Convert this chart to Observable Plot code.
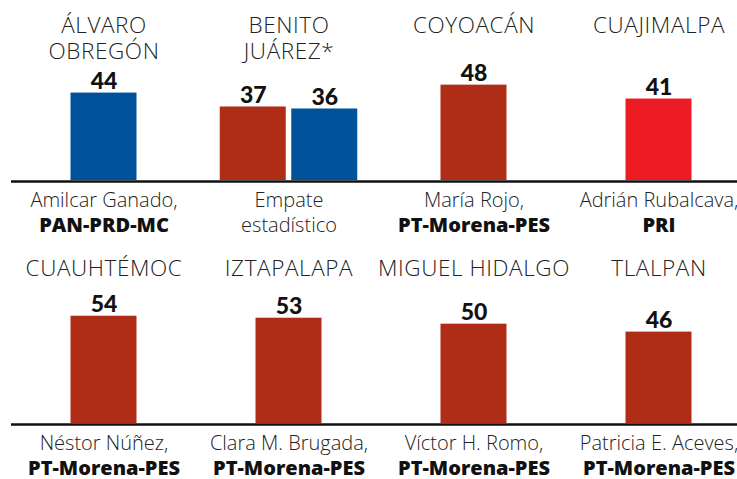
<!DOCTYPE html>
<html><head><meta charset="utf-8">
<script src="https://cdn.jsdelivr.net/npm/d3@7"></script>
<script src="https://cdn.jsdelivr.net/npm/@observablehq/plot@0.6"></script>
<style>
html,body{margin:0;padding:0;background:#fff;overflow:hidden;width:737px;height:479px}
#chart svg{display:block;max-width:none !important}
</style></head><body><div id="chart"></div>
<script>
// District panels (4 per row, 2 rows)
const districts = ["ÁLVARO\nOBREGÓN", "BENITO\nJUÁREZ*", "COYOACÁN", "CUAJIMALPA",
                   "CUAUHTÉMOC", "IZTAPALAPA", "MIGUEL HIDALGO", "TLALPAN"];
const candidateLine = ["Amilcar Ganado,", "Empate", "María Rojo,", "Adrián Rubalcava,",
                       "Néstor Núñez,", "Clara M. Brugada,", "Víctor H. Romo,", "Patricia E. Aceves,"];
const partyLine = ["PAN-PRD-MC", "estadístico", "PT-Morena-PES", "PRI",
                   "PT-Morena-PES", "PT-Morena-PES", "PT-Morena-PES", "PT-Morena-PES"];
const partyLineBold = [true, false, true, true, true, true, true, true];

// Bars
const barDistrict = [0, 1, 1, 2, 3, 4, 5, 6, 7];
const barParty = ["PAN-PRD-MC", "PT-Morena-PES", "PAN-PRD-MC", "PT-Morena-PES", "PRI",
                  "PT-Morena-PES", "PT-Morena-PES", "PT-Morena-PES", "PT-Morena-PES"];
const barValue = [44, 37, 36, 48, 41, 54, 53, 50, 46];

const parties = ["PT-Morena-PES", "PAN-PRD-MC", "PRI"];
const partyColors = ["#AF2D17", "#00529B", "#ED1C24"];

const panels = districts.map((name, i) => ({
  name, col: i % 4, row: Math.floor(i / 4),
  line1: candidateLine[i], line2: partyLine[i], bold: partyLineBold[i]
}));

const bars = barValue.map((value, i) => {
  const d = barDistrict[i];
  const same = barDistrict.map((v, j) => [v, j]).filter(([v]) => v === d).map(([, j]) => j);
  const k = same.indexOf(i);
  return {
    value, party: barParty[i],
    col: d % 4, row: Math.floor(d / 4),
    slot: k - (same.length - 1) / 2
  };
});

const light = "'Open Sans', Lato, sans-serif";

const chart = Plot.plot({
  width: 751,
  height: 479,
  marginLeft: 11,
  marginRight: 0,
  marginTop: 30,
  marginBottom: 55,
  style: {fontFamily: light, background: "#fff", color: "#111", maxWidth: "none"},
  fx: {axis: null, paddingInner: 0, paddingOuter: 0, domain: [0, 1, 2, 3]},
  fy: {axis: null, paddingInner: 0.3852, paddingOuter: 0, domain: [0, 1]},
  x: {axis: null, domain: [-1.2937, 1.2937]},
  y: {axis: null, domain: [0, 75]},
  color: {domain: parties, range: partyColors},
  marks: [
    Plot.rectY(bars, {
      fx: "col", fy: "row",
      x1: d => d.slot - 0.4615, x2: d => d.slot + 0.4615,
      y: "value", fill: "party", insetLeft: 0, insetRight: 0
    }),
    Plot.ruleY([0], {stroke: "#111", strokeWidth: 2.5, dy: 1}),
    Plot.text(bars, {
      fx: "col", fy: "row", x: "slot", y: "value", text: d => String(d.value),
      lineAnchor: "bottom", dy: -4, fontSize: 23, fontWeight: 900, fill: "#111",
      fontFamily: "Lato, sans-serif"
    }),
    Plot.text(panels, {
      fx: "col", fy: "row", text: "name", frameAnchor: "top", lineAnchor: "top",
      dy: -16.5, fontSize: 22.5, fontWeight: 300, lineHeight: 1.15, fill: "#222"
    }),
    Plot.text(panels, {
      fx: "col", fy: "row", text: "line1", frameAnchor: "bottom", lineAnchor: "bottom",
      dy: 26.5, fontSize: 20, fontWeight: 300, fill: "#222"
    }),
    Plot.text(panels.filter(d => !d.bold), {
      fx: "col", fy: "row", text: "line2", frameAnchor: "bottom", lineAnchor: "bottom",
      dy: 51.5, fontSize: 20, fontWeight: 300, fill: "#222"
    }),
    Plot.text(panels.filter(d => d.bold), {
      fx: "col", fy: "row", text: "line2", frameAnchor: "bottom", lineAnchor: "bottom",
      dy: 51.5, fontSize: 20, fontWeight: 800, fill: "#111"
    })
  ]
});
// slightly open tracking on the district names
d3.select(chart).selectAll("g[aria-label='text']").filter((_, i) => i === 1)
  .style("letter-spacing", "0.6px");
document.getElementById("chart").appendChild(chart);
</script>
</body></html>
